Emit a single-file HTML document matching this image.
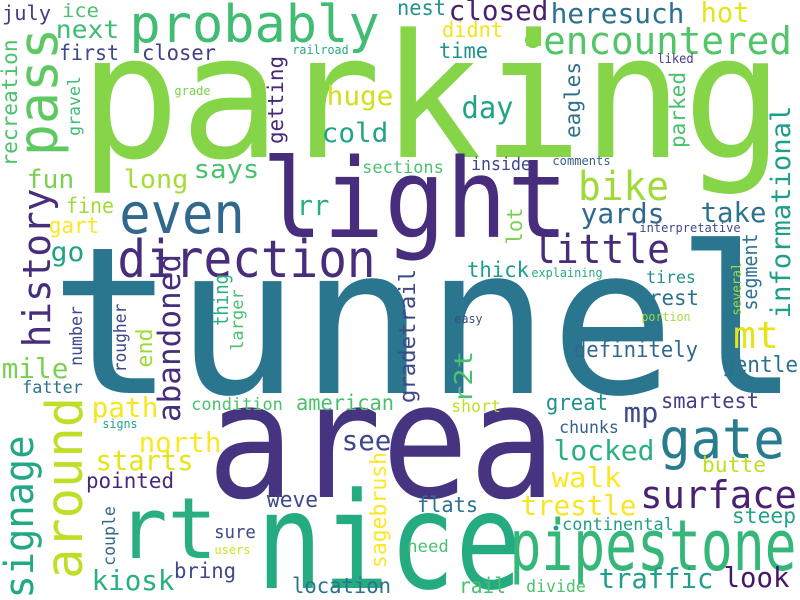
<!DOCTYPE html>
<html><head><meta charset="utf-8"><style>
html,body{margin:0;padding:0;background:#fff;}
svg{display:block;}
text{font-family:"DejaVu Sans Mono","Liberation Mono",monospace;}
</style></head><body>
<svg id="cloud" width="800" height="600" viewBox="0 0 800 600" xmlns="http://www.w3.org/2000/svg">
<rect width="800" height="600" fill="#ffffff"/>
<circle cx="533" cy="40" r="8" fill="#7ad151"/>
<circle cx="556" cy="528" r="2.5" fill="#1f9e89"/>
</svg>
<script>
// horizontal: [word, inkLeft, inkRight, baseline, fontSize, color]
const hWords = [
 ["parking",88,775,157,172,"#86d549"],
 ["tunnel",60,790,393,205,"#2a768e"],
 ["area",215,548,497,160,"#463480"],
 ["light",267,563,237,110,"#472d7b"],
 ["nice",263,515,588,134,"#25ab82"],
 ["rt",122,213,558,85,"#29af7f"],
 ["probably",132,377,42,52,"#40bd72"],
 ["encountered",545,790,54,38,"#52c569"],
 ["even",122,242,233,56,"#31688e"],
 ["direction",120,373,277,52,"#472d7b"],
 ["pipestone",513,793,570,70,"#35b779"],
 ["gate",662,782,458,55,"#287c8e"],
 ["surface",642,795,508,38,"#482173"],
 ["little",535,668,263,40,"#472c7a"],
 ["bike",580,667,200,40,"#a0da39"],
 ["july",3,50,20,20,"#433e85"],
 ["ice",63,98,17,19,"#4ac16d"],
 ["next",57,118,38,25,"#3dbc74"],
 ["first",60,118,60,21,"#3e4989"],
 ["closer",143,215,60,21,"#424086"],
 ["railroad",293,348,54,12,"#26a784"],
 ["grade",175,210,95,12,"#7ad151"],
 ["huge",328,392,105,27,"#d0e11c"],
 ["cold",323,387,142,27,"#20a386"],
 ["says",195,258,178,26,"#4ac16d"],
 ["long",125,187,188,26,"#a5db36"],
 ["fun",28,73,188,26,"#7ad151"],
 ["sections",363,443,173,17,"#4ac16d"],
 ["fine",67,113,213,21,"#a0da39"],
 ["rr",298,328,215,28,"#2ab07f"],
 ["gart",50,98,233,22,"#fde725"],
 ["go",52,83,261,27,"#20a386"],
 ["nest",398,445,15,21,"#21918c"],
 ["closed",450,547,20,28,"#482173"],
 ["heresuch",552,683,23,28,"#2c728e"],
 ["hot",702,748,22,28,"#e5e419"],
 ["didnt",443,502,37,21,"#f0e51c"],
 ["time",440,487,58,21,"#21918c"],
 ["liked",658,693,63,13,"#433e85"],
 ["day",463,512,118,30,"#20a386"],
 ["inside",472,530,170,18,"#3e4989"],
 ["comments",553,610,165,12,"#355f8d"],
 ["take",702,765,222,28,"#2c728e"],
 ["yards",582,663,223,28,"#31688e"],
 ["interpretative",640,740,232,12,"#3e4989"],
 ["thick",468,528,277,21,"#1f9e89"],
 ["explaining",532,602,277,12,"#26ad81"],
 ["tires",647,695,283,17,"#21918c"],
 ["rest",650,698,305,21,"#2c728e"],
 ["mile",3,67,378,28,"#7ad151"],
 ["fatter",23,82,393,17,"#2c728e"],
 ["path",93,157,417,28,"#f8e621"],
 ["condition",192,282,410,17,"#4ac16d"],
 ["american",297,393,410,21,"#4ac16d"],
 ["signs",103,137,428,12,"#20a386"],
 ["north",140,220,452,28,"#fde725"],
 ["starts",97,192,470,28,"#e5e419"],
 ["see",343,390,450,28,"#3e4989"],
 ["pointed",87,173,488,21,"#482878"],
 ["weve",268,317,507,22,"#3e4989"],
 ["sure",215,255,538,18,"#3e4989"],
 ["users",215,250,554,12,"#d0e11c"],
 ["bring",175,235,578,21,"#3e4989"],
 ["kiosk",93,173,590,28,"#2ab07f"],
 ["location",293,390,593,21,"#2c728e"],
 ["mt",735,777,348,37,"#e5e419"],
 ["definitely",575,697,357,22,"#31688e"],
 ["gentle",723,797,372,22,"#2c728e"],
 ["easy",455,482,323,12,"#3e4989"],
 ["portion",642,690,321,12,"#a0da39"],
 ["short",452,500,412,17,"#bddf26"],
 ["great",547,607,410,22,"#21918c"],
 ["smartest",662,758,408,21,"#433e85"],
 ["mp",625,657,422,28,"#3e4989"],
 ["chunks",560,618,433,17,"#355f8d"],
 ["locked",555,653,460,28,"#2ab07f"],
 ["butte",703,765,472,21,"#bddf26"],
 ["walk",553,620,487,28,"#fde725"],
 ["flats",418,477,512,21,"#2c728e"],
 ["trestle",522,635,515,28,"#f8e621"],
 ["steep",733,795,523,21,"#20a386"],
 ["continental",563,673,530,17,"#1f9e89"],
 ["need",408,448,552,17,"#4ac16d"],
 ["traffic",600,712,588,28,"#1f9e89"],
 ["look",725,788,587,28,"#481668"],
 ["rail",460,505,593,21,"#4ac16d"],
 ["divide",527,585,592,17,"#4ac16d"]
];
// vertical (read bottom to top): [word, baselineX, centerY, inkLength, fontSize, color]
const vWords = [
 ["pass",57,92,123,55,"#5ec962"],
 ["recreation",17,103,125,21,"#4ac16d"],
 ["gravel",80,106,58,17,"#3dbc74"],
 ["getting",283,100,86,21,"#482878"],
 ["history",50,268,155,38,"#472d7b"],
 ["abandoned",180,338,165,31,"#472d7b"],
 ["thing",228,300,50,20,"#2ab07f"],
 ["larger",243,320,60,17,"#4ac16d"],
 ["eagles",580,100,74,21,"#2c728e"],
 ["parked",685,110,74,21,"#4ac16d"],
 ["informational",790,212,210,27,"#1f9e89"],
 ["segment",757,272,75,20,"#2c728e"],
 ["lot",522,226,35,21,"#7ad151"],
 ["several",741,289,52,13,"#a0da39"],
 ["number",82,336,58,17,"#3e4989"],
 ["rougher",126,338,67,17,"#3e4989"],
 ["end",152,348,37,22,"#a0da39"],
 ["sagebrush",386,510,114,22,"#fde725"],
 ["couple",115,536,58,17,"#31688e"],
 ["signage",33,517,159,40,"#22a884"],
 ["around",82,488,177,51,"#bddf26"],
 ["gradetrail",415,336,132,22,"#3e4989"],
 ["r2t",472,377,50,25,"#4ac16d"]
];
const NS = "http://www.w3.org/2000/svg";
const svg = document.getElementById("cloud");
hWords.forEach(function(w){
  const el = document.createElementNS(NS, "text");
  
  
  el.setAttribute("x", (w[1] + w[2]) / 2);
  el.setAttribute("y", w[3]);
  el.setAttribute("font-size", w[4]);
  el.setAttribute("fill", w[5]);
  el.setAttribute("text-anchor", "middle");
  el.setAttribute("textLength", (w[2] - w[1]) + 0.1 * w[4]);
  el.setAttribute("lengthAdjust", "spacingAndGlyphs");
  el.textContent = w[0];
  svg.appendChild(el);
});
vWords.forEach(function(w){
  const el = document.createElementNS(NS, "text");
  
  
  el.setAttribute("x", 0);
  el.setAttribute("y", 0);
  el.setAttribute("transform", "translate(" + w[1] + "," + w[2] + ") rotate(-90)");
  el.setAttribute("font-size", w[4]);
  el.setAttribute("fill", w[5]);
  el.setAttribute("text-anchor", "middle");
  el.setAttribute("textLength", w[3] + 0.1 * w[4]);
  el.setAttribute("lengthAdjust", "spacingAndGlyphs");
  el.textContent = w[0];
  svg.appendChild(el);
});
</script>
</body></html>
